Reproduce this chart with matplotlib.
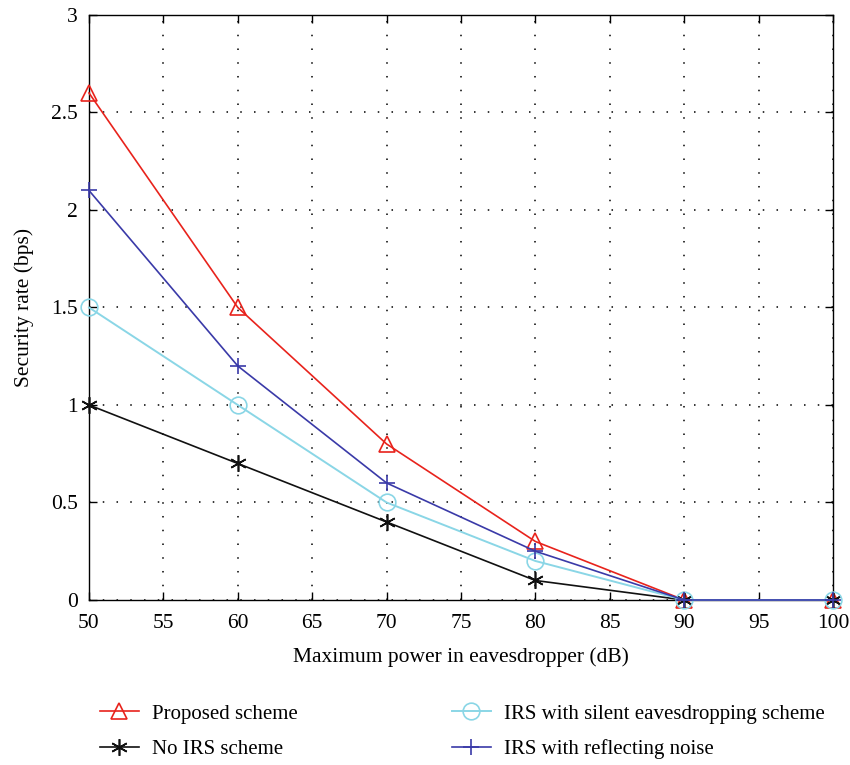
import matplotlib
matplotlib.use('Agg')
import matplotlib.pyplot as plt

# ─────────── data ───────────
power_db = [50, 60, 70, 80, 90, 100]
proposed = [2.6, 1.5, 0.8, 0.3, 0.0, 0.0]
no_irs = [1.0, 0.7, 0.4, 0.1, 0.0, 0.0]
irs_silent = [1.5, 1.0, 0.5, 0.2, 0.0, 0.0]
irs_noise = [2.1, 1.2, 0.6, 0.25, 0.0, 0.0]

x_ticks = list(range(50, 101, 5))
y_ticks = [0, 0.5, 1, 1.5, 2, 2.5, 3]
y_tick_labels = ['0', '0.5', '1', '1.5', '2', '2.5', '3']

plt.rcParams['font.family'] = ['Liberation Serif', 'DejaVu Serif']

fig = plt.figure(figsize=(8.5, 7.65), dpi=100)
ax = fig.add_axes([0.1047, 0.2157, 0.8753, 0.7647])

style = dict(ms=12, mew=1.2, clip_on=False, zorder=3)
ax.plot(power_db, proposed, color='#e8231c', lw=1.2, marker='^',
        mfc='none', label='Proposed scheme', **style)
ax.plot(power_db, no_irs, color='#111111', lw=1.2, marker=(6, 2, 0),
        label='No IRS scheme', **style)
ax.plot(power_db, irs_silent, color='#8ad6e6', lw=1.4, marker='o',
        mfc='none', label='IRS with silent eavesdropping scheme', **style)
ax.plot(power_db, irs_noise, color='#3a3aa8', lw=1.2, marker='+',
        label='IRS with reflecting noise', **style)

ax.set_xlim(50, 100)
ax.set_ylim(0, 3)
ax.set_xticks(x_ticks)
ax.set_yticks(y_ticks)
ax.set_yticklabels(y_tick_labels)
ax.tick_params(direction='in', top=True, right=True, length=6, labelsize=15.5,
               width=1.0)
ax.tick_params(axis='x', pad=10)
ax.tick_params(axis='y', pad=8)
ax.grid(True, linestyle=(0, (1, 8)), color='black', lw=1.1)
for s in ax.spines.values():
    s.set_linewidth(1.0)

ax.set_xlabel('Maximum power in eavesdropper (dB)', fontsize=15.5, labelpad=10)
ax.set_ylabel('Security rate (bps)', fontsize=15.5, labelpad=12)

fig.legend(loc='upper left', bbox_to_anchor=(0.095, 0.104), ncol=2,
           frameon=False, fontsize=15, columnspacing=7.4,
           handlelength=1.9, handletextpad=0.6, labelspacing=0.75)

fig.savefig('out.png', dpi=100)
